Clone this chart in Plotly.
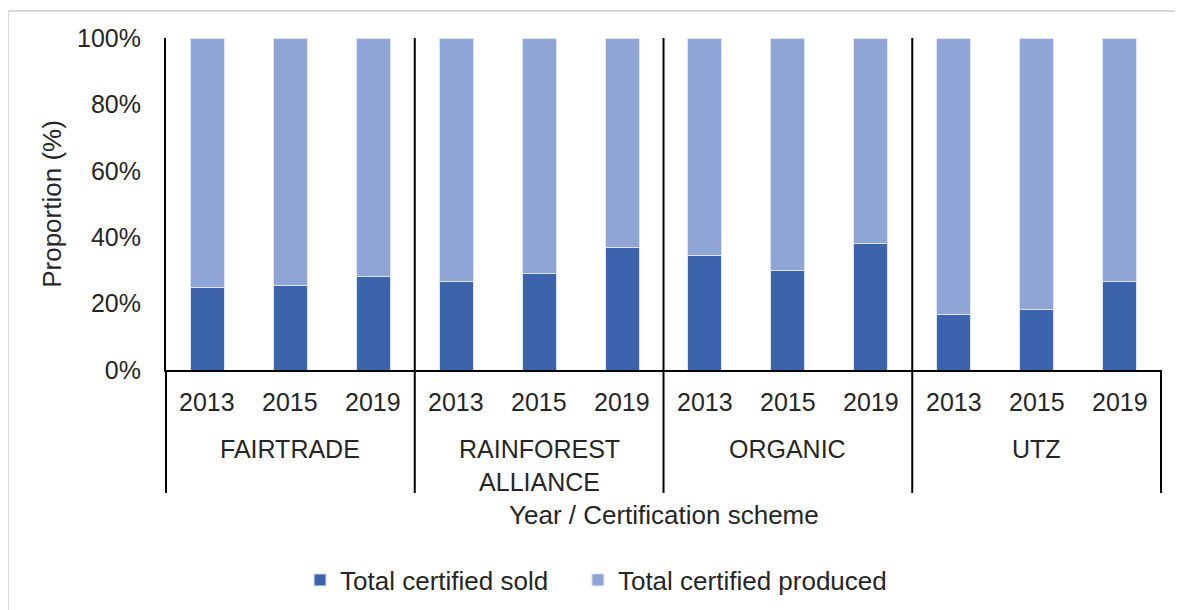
import plotly.graph_objects as go

schemes = ["FAIRTRADE", "RAINFOREST<br>ALLIANCE", "ORGANIC", "UTZ"]
years = ["2013", "2015", "2019"]

sold = [24.8, 25.5, 28.2, 26.8, 29.0, 37.0, 34.5, 30.0, 38.0, 16.8, 18.2, 26.8]
produced = [75.2, 74.5, 71.8, 73.2, 71.0, 63.0, 65.5, 70.0, 62.0, 83.2, 81.8, 73.2]

x_outer = [s for s in schemes for _ in years]
x_inner = [y for _ in schemes for y in years]

dark = "#3B64AD"
light = "#8FA5D6"
txt = "#262626"
FONT = "Liberation Sans, Arial, sans-serif"

fig = go.Figure()
fig.add_trace(go.Bar(x=[x_outer, x_inner], y=sold, name="Total certified sold", legend="legend",
                     marker=dict(color=dark, line=dict(color="#dfe5f3", width=1))))
fig.add_trace(go.Bar(x=[x_outer, x_inner], y=produced, name="Total certified produced", legend="legend2",
                     marker=dict(color=light, line=dict(color="#dfe5f3", width=1))))

n_bars = len(x_inner)
n_groups = len(schemes)
PLOT_H = 332.0  # plot-area height in px, used to place labels below the axis

def below(px):
    return -px / PLOT_H

shapes = []
for g in range(n_groups + 1):
    fx = g / n_groups
    top = 1 if 0 < g < n_groups else 0
    shapes.append(dict(type="line", xref="paper", yref="paper", x0=fx, x1=fx, y0=top, y1=below(123),
                       line=dict(color="black", width=2)))
shapes.append(dict(type="rect", xref="paper", yref="paper", x0=-0.1588, x1=1.03, y0=-0.76, y1=1.081,
                   line=dict(color="#d9d9d9", width=2), layer="below"))

annotations = []
for i, yr in enumerate(x_inner):
    annotations.append(dict(text=yr, xref="paper", yref="paper", x=(i + 0.5) / n_bars, y=below(32),
                            xanchor="center", yanchor="middle", showarrow=False,
                            font=dict(size=25, color=txt)))
for g, s in enumerate(schemes):
    annotations.append(dict(text=s, xref="paper", yref="paper", x=(g + 0.5) / n_groups, y=below(63),
                            xanchor="center", yanchor="top", showarrow=False,
                            font=dict(size=25, color=txt)))
annotations.append(dict(text="Year / Certification scheme", xref="paper", yref="paper", x=0.5, y=below(145),
                        xanchor="center", yanchor="middle", showarrow=False,
                        font=dict(size=26, color=txt)))

legend_common = dict(orientation="h", xanchor="left", y=-0.6325, yanchor="middle",
                     font=dict(size=26, color=txt), itemwidth=30, bgcolor="rgba(0,0,0,0)")

fig.update_layout(
    barmode="stack",
    bargap=0.59,
    width=1183, height=610,
    margin=dict(l=158, r=30, t=30, b=248),
    paper_bgcolor="white", plot_bgcolor="white",
    font=dict(family=FONT, size=25, color=txt),
    showlegend=True,
    legend=dict(x=0.1347, **legend_common),
    legend2=dict(x=0.414, **legend_common),
    shapes=shapes,
    annotations=annotations,
    xaxis=dict(type="multicategory", showline=True, linecolor="black", linewidth=2,
               showgrid=False, ticks="", showdividers=False, showticklabels=False),
    yaxis=dict(range=[0, 100], tickvals=[0, 20, 40, 60, 80, 100], ticktext=["0%", "20%", "40%", "60%", "80%", "100%"],
               showline=True, linecolor="black", linewidth=2, showgrid=False, ticks="", zeroline=False,
               ticklabelstandoff=18, tickfont=dict(size=25, color=txt),
               title=dict(text="Proportion (%)", font=dict(size=26, color=txt), standoff=8)),
)

fig.write_html("out.html")
